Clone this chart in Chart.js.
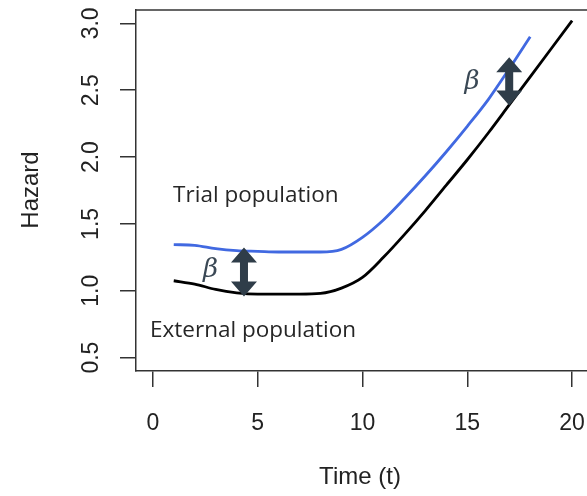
<!DOCTYPE html>
<html lang="en">
<head>
  <meta charset="UTF-8" />
  <title>Hazard</title>
  <script src="https://cdn.jsdelivr.net/npm/chart.js"></script>
  <style>
    body {
      background: #fff;
      margin: 0;
      padding: 0;
      overflow: hidden;
    }
    canvas {
      display: block;
    }
  </style>
</head>
<body>
  <canvas id="hazardChart" width="587" height="496"></canvas>

  <script>
    // time points and hazard
    const trialTimes = [1, 2, 3, 4, 5, 6, 7, 8, 9, 10, 11, 12, 13, 14, 15, 16, 17, 18];
    const trialHazard = [1.345, 1.34, 1.315, 1.30, 1.295, 1.29, 1.29, 1.29, 1.31, 1.40, 1.53, 1.69, 1.86, 2.04, 2.23, 2.43, 2.66, 2.90];
    const externalTimes = [1, 2, 3, 4, 5, 6, 7, 8, 9, 10, 11, 12, 13, 14, 15, 16, 17, 18, 19, 20];
    const externalHazard = [1.075, 1.05, 1.01, 0.985, 0.975, 0.975, 0.975, 0.98, 1.02, 1.10, 1.25, 1.42, 1.60, 1.79, 1.98, 2.18, 2.39, 2.60, 2.81, 3.02];

    // beta arrows: time, lower and upper hazard
    const arrowTimes = [4.35, 17.0];
    const arrowLow = [0.957, 2.385];
    const arrowHigh = [1.324, 2.746];

    const xTicks = [0, 5, 10, 15, 20];
    const yTicks = [0.5, 1.0, 1.5, 2.0, 2.5, 3.0];

    const labels = [
      { text: 'Trial population', x: 0.97, y: 1.71 },
      { text: 'External population', x: -0.13, y: 0.70 }
    ];
    const betas = [
      { x: 2.75, y: 1.15 },
      { x: 15.23, y: 2.56 }
    ];

    const axisColor = '#333';
    const arrowColor = '#2f3d49';

    function drawArrow(ctx, px, top, bot) {
      const hw = 13, hl = 15, sw = 4;
      ctx.beginPath();
      ctx.moveTo(px, top);
      ctx.lineTo(px + hw, top + hl);
      ctx.lineTo(px + sw, top + hl);
      ctx.lineTo(px + sw, bot - hl);
      ctx.lineTo(px + hw, bot - hl);
      ctx.lineTo(px, bot);
      ctx.lineTo(px - hw, bot - hl);
      ctx.lineTo(px - sw, bot - hl);
      ctx.lineTo(px - sw, top + hl);
      ctx.lineTo(px - hw, top + hl);
      ctx.closePath();
      ctx.fill();
    }

    const overlay = {
      id: 'overlay',
      afterDraw(chart) {
        const { ctx, chartArea: a, scales: { x, y } } = chart;
        ctx.save();

        // top edge of the box
        ctx.strokeStyle = axisColor;
        ctx.lineWidth = 1.5;
        ctx.beginPath();
        ctx.moveTo(a.left, a.top);
        ctx.lineTo(a.right, a.top);
        ctx.stroke();

        // tick labels
        ctx.fillStyle = '#222';
        ctx.font = '23px "Liberation Sans", Arial, sans-serif';
        ctx.textAlign = 'center';
        ctx.textBaseline = 'middle';
        yTicks.forEach(v => {
          ctx.save();
          ctx.translate(92, y.getPixelForValue(v));
          ctx.rotate(-Math.PI / 2);
          ctx.fillText(v.toFixed(1), 0, 0);
          ctx.restore();
        });
        xTicks.forEach(v => {
          ctx.fillText(String(v), x.getPixelForValue(v), 424);
        });

        // axis titles
        ctx.font = '24px "Liberation Sans", Arial, sans-serif';
        ctx.fillText('Time (t)', 360, 477);
        ctx.save();
        ctx.translate(31, 190);
        ctx.rotate(-Math.PI / 2);
        ctx.fillText('Hazard', 0, 0);
        ctx.restore();

        // population labels
        ctx.fillStyle = '#262626';
        ctx.font = '22.5px "Open Sans", sans-serif';
        ctx.textAlign = 'left';
        labels.forEach(l => {
          ctx.fillText(l.text, x.getPixelForValue(l.x), y.getPixelForValue(l.y));
        });

        // beta arrows
        ctx.fillStyle = arrowColor;
        arrowTimes.forEach((t, i) => {
          drawArrow(ctx, x.getPixelForValue(t), y.getPixelForValue(arrowHigh[i]), y.getPixelForValue(arrowLow[i]));
        });
        ctx.fillStyle = '#3a4855';
        ctx.font = 'italic 26px "DejaVu Serif", serif';
        ctx.textAlign = 'center';
        betas.forEach(b => {
          ctx.fillText('\u03B2', x.getPixelForValue(b.x), y.getPixelForValue(b.y));
        });

        ctx.restore();
      }
    };

    const axisGrid = {
      display: true,
      drawOnChartArea: false,
      drawTicks: true,
      tickLength: 16,
      color: axisColor,
      lineWidth: 1.5
    };

    new Chart(document.getElementById('hazardChart'), {
      type: 'line',
      data: {
        datasets: [
          {
            label: 'Trial population',
            data: trialTimes.map((t, i) => ({ x: t, y: trialHazard[i] })),
            borderColor: '#4169e1',
            borderWidth: 2.8,
            pointRadius: 0,
            cubicInterpolationMode: 'monotone'
          },
          {
            label: 'External population',
            data: externalTimes.map((t, i) => ({ x: t, y: externalHazard[i] })),
            borderColor: '#000',
            borderWidth: 2.8,
            pointRadius: 0,
            cubicInterpolationMode: 'monotone'
          }
        ]
      },
      options: {
        responsive: false,
        animation: false,
        layout: {
          padding: { left: 120, right: 0, top: 10, bottom: 109 }
        },
        plugins: {
          legend: { display: false },
          tooltip: { enabled: false }
        },
        scales: {
          x: {
            type: 'linear',
            min: -0.8,
            max: 20.71,
            afterBuildTicks: s => { s.ticks = xTicks.map(v => ({ value: v })); },
            ticks: { display: false },
            grid: axisGrid,
            border: { display: true, color: axisColor, width: 1.5 }
          },
          y: {
            min: 0.4,
            max: 3.1,
            afterBuildTicks: s => { s.ticks = yTicks.map(v => ({ value: v })); },
            ticks: { display: false },
            grid: axisGrid,
            border: { display: true, color: axisColor, width: 1.5 }
          }
        }
      },
      plugins: [overlay]
    });
  </script>
</body>
</html>
